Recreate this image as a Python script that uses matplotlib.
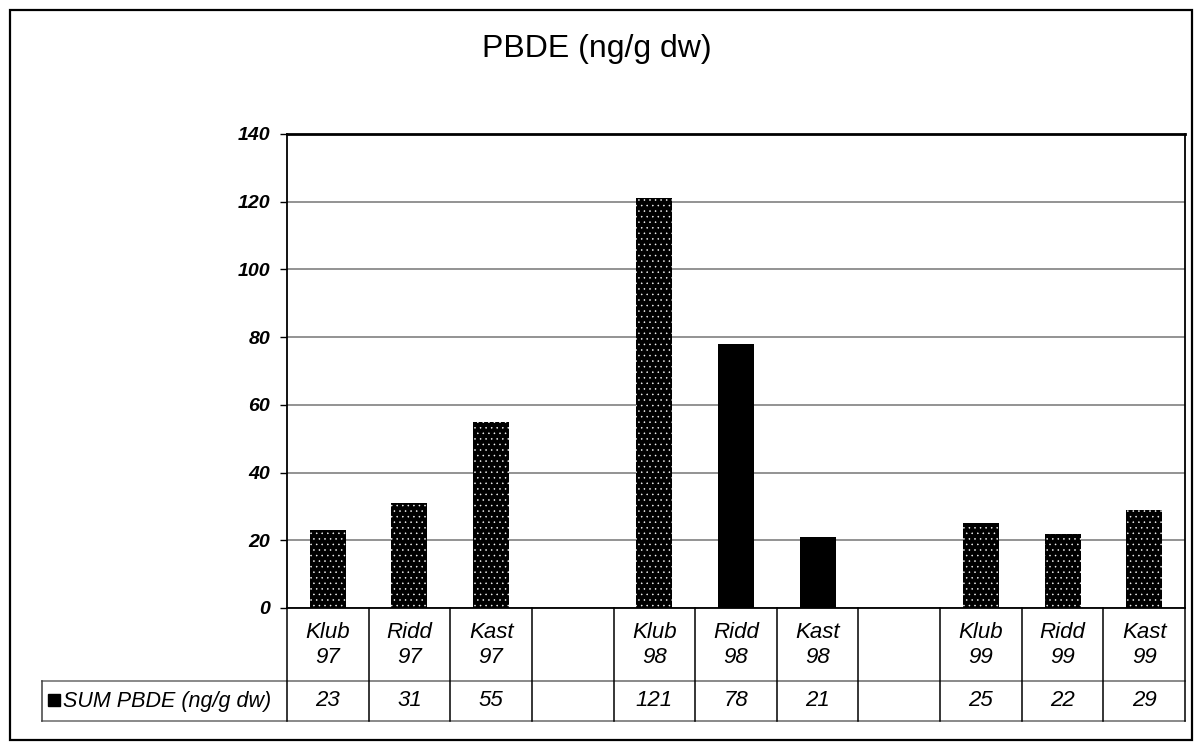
import matplotlib.pyplot as plt
import numpy as np
from matplotlib.patches import Rectangle
from matplotlib.transforms import blended_transform_factory

plt.rcParams['font.family'] = ['Liberation Sans', 'DejaVu Sans']
plt.rcParams['hatch.linewidth'] = 0.35

# Sites per year, with an empty column between the years
sites = ['Klub', 'Ridd', 'Kast', '', 'Klub', 'Ridd', 'Kast', '', 'Klub', 'Ridd', 'Kast']
years = ['97', '97', '97', '', '98', '98', '98', '', '99', '99', '99']
sum_pbde = [23, 31, 55, None, 121, 78, 21, None, 25, 22, 29]
series_name = 'SUM PBDE (ng/g dw)'
title = 'PBDE (ng/g dw)'
y_ticks = [0, 20, 40, 60, 80, 100, 120, 140]

# bars drawn solid instead of dotted
solid_bars = {5, 6}

W, H = 1201, 749
fig = plt.figure(figsize=(W / 100, H / 100), dpi=100)


def fx(px):
    return px / W


def fy(py):
    return 1 - py / H


left, right, top, bottom = 287, 1185, 134, 608
ax = fig.add_axes([fx(left), fy(bottom), fx(right) - fx(left), fy(top) - fy(bottom)])

n = len(sites)
x = np.arange(n)
for i, v in enumerate(sum_pbde):
    if v is None:
        continue
    if i in solid_bars:
        ax.bar(x[i], v, width=0.44, color='black', linewidth=0, zorder=3)
    else:
        ax.bar(x[i], v, width=0.44, color='black', edgecolor='white',
               hatch='...', linewidth=0, zorder=3)

ax.set_xlim(-0.5, n - 0.5)
ax.set_ylim(0, 140)
ax.set_yticks(y_ticks)
ax.set_yticklabels([str(t) for t in y_ticks], fontsize=14,
                   fontweight='bold', fontstyle='italic')
ax.set_xticks([])
ax.tick_params(axis='y', direction='out', length=5, width=1, pad=7)
ax.yaxis.grid(True, color='#808080', linewidth=1.2, zorder=0)
ax.set_axisbelow(True)
for s in ax.spines.values():
    s.set_color('black')
    s.set_linewidth(1.3)
ax.spines['top'].set_linewidth(2)

# data table under the axis
trans = blended_transform_factory(ax.transData, ax.transAxes)
ph = bottom - top


def ay(py):
    return -(py - bottom) / ph


row1, row2 = 681, 721
x_leg = -0.5 - (left - 42) / ((right - left) / n)

ax.plot([x_leg, n - 0.5], [ay(row1)] * 2, color='#808080', lw=1.3,
        transform=trans, clip_on=False)
ax.plot([x_leg, n - 0.5], [ay(row2)] * 2, color='#808080', lw=1.3,
        transform=trans, clip_on=False)
for b in np.arange(-0.5, n):
    ax.plot([b, b], [0, ay(row2)], color='black', lw=1.1,
            transform=trans, clip_on=False)
ax.plot([x_leg, x_leg], [ay(row1), ay(row2)], color='#404040', lw=1.1,
        transform=trans, clip_on=False)

for i in range(n):
    if sites[i]:
        ax.text(x[i], ay(645), f'{sites[i]}\n{years[i]}', ha='center',
                va='center', fontsize=16, fontstyle='italic',
                linespacing=1.2, transform=trans)
    if sum_pbde[i] is not None:
        ax.text(x[i], ay(701), str(sum_pbde[i]), ha='center', va='center',
                fontsize=16, fontstyle='italic', transform=trans)

fig.patches.append(Rectangle((fx(48), fy(706)), fx(12), 12 / H, color='black',
                             transform=fig.transFigure))
fig.text(fx(63), fy(701), series_name, ha='left', va='center',
         fontsize=15.5, fontstyle='italic')

fig.text(0.497, fy(49), title, ha='center', va='center', fontsize=23)

# chart area border
fig.patches.append(Rectangle((fx(10), fy(740)), fx(1192) - fx(10), fy(10) - fy(740),
                             fill=False, edgecolor='black', linewidth=1.6,
                             transform=fig.transFigure))

fig.savefig('out.png', dpi=100)
